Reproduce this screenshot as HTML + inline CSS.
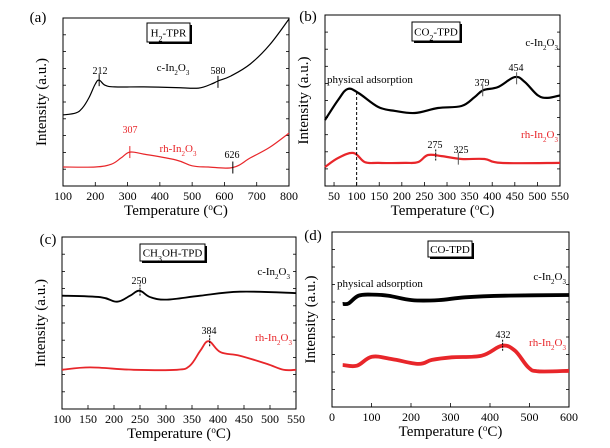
<!DOCTYPE html>
<html><head><meta charset="utf-8"><style>
body{margin:0;background:#fff;}
svg{display:block;font-family:"Liberation Serif",serif;}
</style></head><body>
<svg id="fig" width="610" height="448" viewBox="0 0 610 448"></svg>
<script>
// Panel (a) H2-TPR
const aBlackT=[100,140,160,180,200,212,230,260,350,450,520,560,580,620,680,740,800];
const aBlackV=[42.3,43.5,46.4,52.4,60.7,63,60,59,59,58.6,58.3,60.7,62.5,65.5,72.6,84,99.4];
const aRedT=[100,200,250,280,307,350,450,500,550,626,680,740,800];
const aRedV=[11.3,11.3,13,16.7,20.2,19,15.5,12,11.3,11,16.7,23,31.5];
const aTicks=[100,200,300,400,500,600,700,800];
// Panel (b) CO2-TPD
const bBlackT=[30,59,80,104,148,185,229,280,332,361,380,413,450,472,501,523,550];
const bBlackV=[38.6,50.3,56.7,54.4,46.2,43.9,42.7,45.6,46.8,52,56,57.9,63.7,60.8,53,51.5,53];
const bRedT=[30,59,93,118,148,207,236,258,288,332,383,420,550];
const bRedV=[11.1,16.4,19.3,14,13.5,13.5,14,18.1,17.5,15.8,15.8,13.5,13.5];
const bTicks=[50,100,150,200,250,300,350,400,450,500,550];
// Panel (c) CH3OH-TPD
const cBlackT=[100,174,206,231,249,270,302,366,442,550];
const cBlackV=[65.9,65,62.4,65.9,68.8,65,63.6,65.9,68.2,67.4];
const cRedT=[100,154,238,321,346,366,382,405,442,494,526,550];
const cRedV=[22.8,24.2,22.8,22.8,25.2,33.9,39.4,33,31,26.2,22.8,22.8];
const cTicks=[100,150,200,250,300,350,400,450,500,550];
// Panel (d) CO-TPD
const dBlackT=[27,42,67,101,143,202,270,337,438,600];
const dBlackV=[58.9,59.2,63.6,64.2,63.6,61.1,61.1,62.7,63.6,64];
const dRedT=[27,63,101,152,219,253,303,379,430,463,497,522,600];
const dRedV=[24,23.6,28.7,27.4,24.6,26.9,28.4,29.3,35,32.2,22.7,20.4,20.7];
const dTicks=[0,100,200,300,400,500,600];

const NS="http://www.w3.org/2000/svg";
const svg=document.getElementById('fig');
function mk(tag,attrs,parent){const e=document.createElementNS(NS,tag);for(const k in attrs)e.setAttribute(k,attrs[k]);(parent||svg).appendChild(e);return e;}
function txt(x,y,s,size,fill,anchor,parent){const e=mk('text',{x:x,y:y,'font-size':size,fill:fill||'#000','text-anchor':anchor||'middle'},parent);e.innerHTML=s;return e;}
function smooth(pts){
 let d='M'+pts[0][0].toFixed(1)+','+pts[0][1].toFixed(1);
 for(let i=0;i<pts.length-1;i++){
  const p0=pts[Math.max(i-1,0)],p1=pts[i],p2=pts[i+1],p3=pts[Math.min(i+2,pts.length-1)];
  const k=0.18;
  const c1=[p1[0]+(p2[0]-p0[0])*k,p1[1]+(p2[1]-p0[1])*k];
  const c2=[p2[0]-(p3[0]-p1[0])*k,p2[1]-(p3[1]-p1[1])*k];
  d+=' C'+c1[0].toFixed(1)+','+c1[1].toFixed(1)+' '+c2[0].toFixed(1)+','+c2[1].toFixed(1)+' '+p2[0].toFixed(1)+','+p2[1].toFixed(1);
 }
 return d;
}

const panels=[
 {id:'a',L:63,R:289,T:18,B:186,x0:100,x1:800,ticks:aTicks,series:[[aBlackT,aBlackV,'#000',1.2],[aRedT,aRedV,'#e8262a',1.2]],
  title:'H<tspan baseline-shift="sub" font-size="8">2</tspan>-TPR',box:[147,23,43,19],label:[38,22]},
 {id:'b',L:325,R:560,T:15,B:186,x0:30,x1:550,ticks:bTicks,series:[[bBlackT,bBlackV,'#000',2.2],[bRedT,bRedV,'#e8262a',2.2]],
  title:'CO<tspan baseline-shift="sub" font-size="8">2</tspan>-TPD',box:[412,22,48,19],label:[308,21]},
 {id:'c',L:62,R:296,T:237,B:409,x0:100,x1:550,ticks:cTicks,series:[[cBlackT,cBlackV,'#000',1.8],[cRedT,cRedV,'#e8262a',1.8]],
  title:'CH<tspan baseline-shift="sub" font-size="8">3</tspan><tspan baseline-shift="0">OH-TPD</tspan>',box:[140,244,65,17],label:[48,244]},
 {id:'d',L:332,R:569,T:232,B:407,x0:0,x1:600,ticks:dTicks,series:[[dBlackT,dBlackV,'#000',3.8],[dRedT,dRedV,'#e8262a',3.8]],
  title:'CO-TPD',box:[428,241,44,16],label:[313,240]}
];
const names=['c-in2o3','rh-in2o3'];
panels.forEach(p=>{
 const g=mk('g',{});
 
 
 p.sx=t=>p.L+(t-p.x0)/(p.x1-p.x0)*(p.R-p.L);
 p.sy=v=>p.B-v/100*(p.B-p.T);
 const fr=mk('rect',{x:p.L,y:p.T,width:p.R-p.L,height:p.B-p.T,fill:'none',stroke:'#000','stroke-width':1},g);
 
 
 for(let i=1;i<10;i++){const y=p.T+i*(p.B-p.T)/10;
  mk('line',{x1:p.L,x2:p.L+3,y1:y,y2:y,stroke:'#000','stroke-width':0.8},g);
  mk('line',{x1:p.R,x2:p.R-3,y1:y,y2:y,stroke:'#000','stroke-width':0.8},g);}
 p.ticks.forEach(t=>{const x=p.sx(t);
  mk('line',{x1:x,x2:x,y1:p.B,y2:p.B-4,stroke:'#000','stroke-width':0.8},g);
  const l=txt(x,p.B+14,String(t),12,'#000','middle',g);
  
  
 });
 p.series.forEach((s,i)=>{
  const pts=s[0].map((t,k)=>[p.sx(t),p.sy(s[1][k])]);
  const path=mk('path',{d:smooth(pts),fill:'none',stroke:s[2],'stroke-width':s[3],'stroke-linejoin':'round'},g);
  
  
 });
 const xt=txt((p.L+p.R)/2,p.B+29,'Temperature (<tspan baseline-shift="super" font-size="9">o</tspan>C)',15,'#000','middle',g);
 
 
 const yc=(p.T+p.B)/2, yx=p.L-17;
 const yt=txt(yx,yc,'Intensity (a.u.)',15,'#000','middle',g);
 yt.setAttribute('transform','rotate(-90 '+yx+' '+yc+')');
 
 
 const b=p.box;
 mk('rect',{x:b[0]+2,y:b[1]+2,width:b[2],height:b[3],fill:'#000'},g);
 const br=mk('rect',{x:b[0],y:b[1],width:b[2],height:b[3],fill:'#fff',stroke:'#000','stroke-width':1},g);
 
 
 txt(b[0]+b[2]/2,b[1]+b[3]/2+4,p.title,11,'#000','middle',g);
 const pl=txt(p.label[0],p.label[1],'('+p.id+')',15,'#000','middle',g);
 
 
});
const SUB=(n)=>'<tspan baseline-shift="sub" font-size="7">'+n+'</tspan>';
const IN='In'+SUB(2)+'O'+SUB(3);
function ann(x,y,s,col,size,anchor,name){const e=txt(x,y,s,size||10,col||'#000',anchor||'middle');return e;}
function mark(p,t,v,col,dash){const x=p.sx(t),y=p.sy(v);mk('line',{x1:x,x2:x,y1:y-6,y2:y+6,stroke:col,'stroke-width':1,'stroke-dasharray':dash?'2,1':'none'});}
const [A,B,C,D]=panels;
ann(100,74,'212','#000',10,'middle','peak-label-212');mark(A,212,63,'#000');
ann(173,71,'c-'+IN,'#000',11,'middle','series-label-c-in2o3');
ann(218,74,'580','#000',10,'middle','peak-label-580');mark(A,580,62,'#000');
ann(130,133,'307','#e8262a',10,'middle','peak-label-307');mark(A,307,20.2,'#e8262a');
ann(178,152,'rh-'+IN,'#e8262a',11,'middle','series-label-rh-in2o3');
ann(232,158,'626','#000',10,'middle','peak-label-626');mark(A,626,11,'#000');
ann(558,46,'c-'+IN,'#000',11,'end','series-label-c-in2o3');
ann(327,83,'physical adsorption','#000',11,'start','physical-adsorption-label');
mk('line',{x1:B.sx(100),x2:B.sx(100),y1:B.sy(55),y2:B.B,stroke:'#000','stroke-width':1,'stroke-dasharray':'3,2'});
ann(482,86,'379','#000',10,'middle','peak-label-379');mark(B,379,56,'#555');
ann(516,71,'454','#000',10,'middle','peak-label-454');mark(B,454,63,'#555');
ann(558,138,'rh-'+IN,'#e8262a',11,'end','series-label-rh-in2o3');
ann(435,148,'275','#000',10,'middle','peak-label-275');mark(B,275,17.8,'#000',true);
ann(461,153,'325','#000',10,'middle','peak-label-325');mark(B,325,16,'#555');
ann(290,275,'c-'+IN,'#000',11,'end','series-label-c-in2o3');
ann(139,284,'250','#000',10,'middle','peak-label-250');mark(C,250,68.8,'#000',true);
ann(209,334,'384','#000',10,'middle','peak-label-384');mark(C,384,39.4,'#000',true);
ann(292,341,'rh-'+IN,'#e8262a',11,'end','series-label-rh-in2o3');
ann(337,287,'physical adsorption','#000',11,'start','physical-adsorption-label');
ann(566,280,'c-'+IN,'#000',11,'end','series-label-c-in2o3');
ann(503,338,'432','#000',10,'middle','peak-label-432');mark(D,432,35,'#000',true);
ann(566,346,'rh-'+IN,'#e8262a',11,'end','series-label-rh-in2o3');
</script>
</body></html>
